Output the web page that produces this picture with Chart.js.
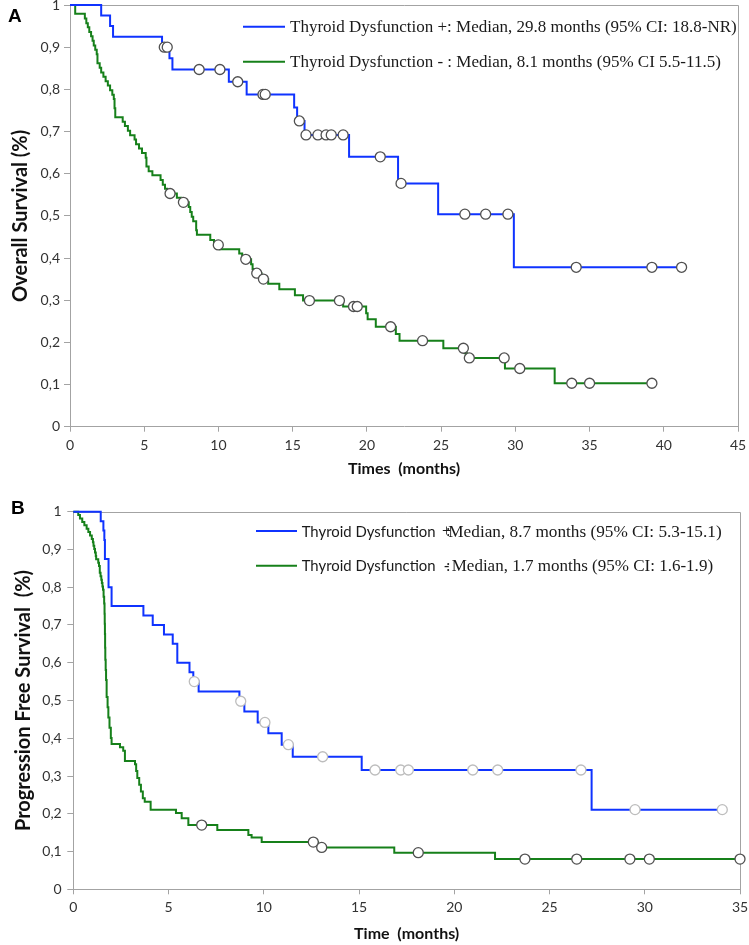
<!DOCTYPE html>
<html>
<head>
<meta charset="utf-8">
<script src="https://cdn.jsdelivr.net/npm/chart.js@4.4.1/dist/chart.umd.min.js"></script>
<style>
  html, body { margin: 0; padding: 0; background: #fff; overflow: hidden; }
  body { width: 749px; height: 945px; position: relative; }
  .panel { position: absolute; left: 0; width: 769px; }
  #wrapA { top: -20px; height: 505px; }
  #wrapB { top: 470px; height: 475px; }
</style>
</head>
<body>
<div class="panel" id="wrapA"><canvas id="osChart"></canvas></div>
<div class="panel" id="wrapB"><canvas id="pfsChart"></canvas></div>
<script>
// --- Panel A: overall survival (months) ---
const osPosTimes = [0, 2.1, 2.7, 2.9, 6.2, 6.7, 6.9, 10.7, 11.9, 15.1, 15.3, 15.8, 18.8, 22.1, 24.8, 29.9, 41.2];
const osPosSurv = [1, 0.975, 0.95, 0.925, 0.9, 0.874, 0.847, 0.818, 0.788, 0.757, 0.725, 0.692, 0.64, 0.577, 0.504, 0.378, 0.378];
const osPosCensorTimes = [6.35, 6.55, 8.7, 10.1, 11.3, 13.0, 13.15, 15.45, 15.9, 16.7, 17.25, 17.6, 18.4, 20.9, 22.3, 26.6, 28.0, 29.5, 34.1, 39.2, 41.2];
const osPosCensorSurv = [0.9, 0.9, 0.847, 0.847, 0.818, 0.788, 0.788, 0.725, 0.692, 0.692, 0.692, 0.692, 0.692, 0.64, 0.577, 0.504, 0.504, 0.504, 0.378, 0.378, 0.378];

const osNegTimes = [0, 0.35, 1.0, 1.1, 1.2, 1.3, 1.42, 1.52, 1.6, 1.7, 1.8, 1.85, 2.0, 2.1, 2.25, 2.4, 2.55, 2.7, 2.85, 2.95, 3.0, 3.05,
  3.55, 3.7, 3.9, 4.05, 4.35, 4.45, 4.65, 4.85, 5.1, 5.15, 5.3, 5.55, 6.1, 6.25, 6.4, 6.55, 7.2, 7.5, 8.0, 8.1, 8.2, 8.3, 8.5, 8.55,
  9.45, 9.7, 10.1, 11.4, 11.6, 12.2, 12.3, 12.45, 12.9, 13.35, 14.1, 15.15, 15.7, 18.4, 19.95, 20.05, 20.6, 21.95, 22.2, 25.15,
  26.6, 26.75, 29.3, 32.65, 39.2];
const osNegSurv = [1, 0.979, 0.968, 0.957, 0.947, 0.936, 0.926, 0.915, 0.904, 0.894, 0.883, 0.862, 0.851, 0.84, 0.83, 0.819, 0.809, 0.798, 0.787, 0.777, 0.755, 0.734,
  0.723, 0.713, 0.702, 0.691, 0.681, 0.67, 0.66, 0.649, 0.638, 0.617, 0.606, 0.596, 0.585, 0.574, 0.564, 0.553, 0.543, 0.532, 0.521, 0.509, 0.498, 0.487, 0.466, 0.455,
  0.443, 0.431, 0.421, 0.411, 0.397, 0.385, 0.374, 0.364, 0.35, 0.339, 0.326, 0.312, 0.299, 0.285, 0.269, 0.255, 0.237, 0.22, 0.204, 0.186,
  0.174, 0.163, 0.138, 0.103, 0.103];
const osNegCensorTimes = [6.74, 7.64, 9.99, 11.84, 12.58, 13.03, 16.13, 18.15, 19.1, 19.35, 21.6, 23.75, 26.5, 26.9, 29.25, 30.3, 33.8, 35.0, 39.2];
const osNegCensorSurv = [0.553, 0.532, 0.431, 0.397, 0.364, 0.35, 0.299, 0.299, 0.285, 0.285, 0.237, 0.204, 0.186, 0.163, 0.163, 0.138, 0.103, 0.103, 0.103];

// --- Panel B: progression free survival (months) ---
const pfsPosTimes = [0, 1.44, 1.58, 1.63, 1.66, 1.85, 2.01, 3.68, 4.17, 4.76, 5.22, 5.46, 6.1, 6.3, 6.58, 8.72, 8.98, 9.68, 10.24, 10.94, 11.52, 15.14, 27.21, 34.07];
const pfsPosSurv = [1, 0.975, 0.95, 0.925, 0.875, 0.8, 0.75, 0.725, 0.7, 0.675, 0.65, 0.6, 0.575, 0.55, 0.524, 0.498, 0.471, 0.442, 0.413, 0.383, 0.351, 0.316, 0.211, 0.211];
const pfsPosCensorTimes = [6.35, 8.79, 10.06, 11.29, 13.09, 15.84, 17.19, 17.59, 20.97, 22.28, 26.65, 29.49, 34.07];
const pfsPosCensorSurv = [0.55, 0.498, 0.442, 0.383, 0.351, 0.316, 0.316, 0.316, 0.316, 0.316, 0.316, 0.211, 0.211];

const pfsNegTimes = [0, 0.26, 0.35, 0.47, 0.58, 0.7, 0.79, 0.88, 0.97, 1.03, 1.06, 1.1, 1.14, 1.18, 1.2, 1.31, 1.35, 1.39, 1.43, 1.47, 1.5, 1.53, 1.56,
  1.59, 1.62, 1.64, 1.65, 1.66, 1.67, 1.68, 1.7, 1.72, 1.75, 1.8, 1.84, 1.9, 1.97, 2.01, 2.45, 2.62, 2.71, 3.24, 3.3, 3.36, 3.46, 3.55,
  3.65, 3.75, 4.06, 5.39, 5.69, 6.04, 7.56, 9.19, 9.36, 9.89, 12.85, 16.85, 22.14, 35];
const pfsNegSurv = [1, 0.991, 0.982, 0.973, 0.964, 0.955, 0.946, 0.937, 0.928, 0.919, 0.91, 0.901, 0.892, 0.883, 0.874, 0.865, 0.856, 0.838, 0.829, 0.82, 0.811, 0.802, 0.793,
  0.775, 0.757, 0.73, 0.703, 0.676, 0.64, 0.608, 0.581, 0.554, 0.509, 0.482, 0.455, 0.428, 0.401, 0.385, 0.376, 0.367, 0.34, 0.331, 0.313, 0.295, 0.277, 0.259,
  0.241, 0.232, 0.211, 0.202, 0.188, 0.17, 0.157, 0.144, 0.137, 0.125, 0.111, 0.097, 0.08, 0.08];
const pfsNegCensorTimes = [6.74, 12.6, 13.04, 18.11, 23.71, 26.43, 29.22, 30.24, 35.0];
const pfsNegCensorSurv = [0.17, 0.125, 0.111, 0.097, 0.08, 0.08, 0.08, 0.08, 0.08];

const yTicks = [0, 0.1, 0.2, 0.3, 0.4, 0.5, 0.6, 0.7, 0.8, 0.9, 1];

const BLUE = '#0f33ff';
const GREEN = '#16801a';
const AXIS = '#a3a3a3';
const SANS = 'Lato';
const SERIF = '"Liberation Serif"';

function pts(times, surv) {
  return times.map((t, i) => ({ x: t, y: surv[i] }));
}

// top + right frame of the plot area
const frame = {
  id: 'frame',
  beforeDatasetsDraw(chart) {
    const { ctx, chartArea: a } = chart;
    ctx.save();
    ctx.strokeStyle = AXIS;
    ctx.lineWidth = 1;
    ctx.beginPath();
    ctx.moveTo(a.left, Math.round(a.top) + 0.5);
    ctx.lineTo(Math.round(a.right) + 0.5, Math.round(a.top) + 0.5);
    ctx.lineTo(Math.round(a.right) + 0.5, a.bottom);
    ctx.stroke();
    ctx.restore();
  }
};

// in-plot legend + panel letter, text fitted to the measured widths
function legendBox(cfg) {
  return {
    id: 'legendBox',
    afterDraw(chart) {
      const ctx = chart.ctx;
      ctx.save();
      ctx.textBaseline = 'middle';
      ctx.fillStyle = '#1a1a1a';
      cfg.rows.forEach(row => {
        ctx.strokeStyle = row.color;
        ctx.lineWidth = 2;
        ctx.beginPath();
        ctx.moveTo(cfg.lineX[0], row.y);
        ctx.lineTo(cfg.lineX[1], row.y);
        ctx.stroke();
        row.parts.forEach(p => {
          let size = p.size;
          ctx.font = size + 'px ' + p.family;
          if (p.w) {
            size = size * p.w / ctx.measureText(p.text).width;
            ctx.font = size.toFixed(2) + 'px ' + p.family;
          }
          ctx.fillText(p.text, p.x, row.y + 1);
        });
      });
      ctx.font = 'bold 19px "Liberation Sans"';
      ctx.fillStyle = '#000';
      ctx.fillText(cfg.letter.text, cfg.letter.x, cfg.letter.y);
      ctx.restore();
    }
  };
}

function tickLabel(v) {
  if (Math.abs(v) < 1e-9) return '0';
  if (Math.abs(v - 1) < 1e-9) return '1';
  return v.toFixed(1).replace('.', ',');
}

function kmChart(id, c) {
  const censorStyle = (color) => ({
    showLine: false, pointRadius: 5, pointHoverRadius: 5,
    pointBackgroundColor: '#fff', pointBorderColor: color, pointBorderWidth: 1.3,
    order: 0, clip: false
  });
  const lineStyle = (color) => ({
    borderColor: color, borderWidth: 2, pointRadius: 0, stepped: true,
    fill: false, order: 1, clip: false
  });
  return new Chart(document.getElementById(id), {
    type: 'line',
    data: {
      datasets: [
        { label: 'pos censored', data: pts(c.posCT, c.posCS), ...censorStyle(c.posCensorColor) },
        { label: 'neg censored', data: pts(c.negCT, c.negCS), ...censorStyle('#505050') },
        { label: 'pos', data: pts(c.posT, c.posS), ...lineStyle(BLUE) },
        { label: 'neg', data: pts(c.negT, c.negS), ...lineStyle(GREEN) }
      ]
    },
    options: {
      responsive: true,
      maintainAspectRatio: false,
      animation: false,
      events: [],
      layout: { padding: c.padding },
      scales: {
        x: {
          type: 'linear', min: 0, max: c.xMax,
          afterFit: s => { s.height = c.xHeight; },
          ticks: { stepSize: 5, autoSkip: false, maxRotation: 0, padding: 5, color: '#333', font: { family: SANS, size: 14 } },
          grid: { drawOnChartArea: false, drawTicks: true, tickLength: 5, color: AXIS },
          border: { display: true, color: AXIS },
          title: { display: true, text: c.xTitle, color: '#111', font: { family: SANS, size: 16, weight: 'bold' }, padding: { top: 0, bottom: c.xTitlePad } }
        },
        y: {
          type: 'linear', min: 0, max: 1,
          afterFit: s => { s.width = c.yWidth; },
          afterBuildTicks: s => { s.ticks = yTicks.map(v => ({ value: v })); },
          ticks: { padding: c.yTickPad, color: '#333', font: { family: SANS, size: 14 }, callback: tickLabel },
          grid: { drawOnChartArea: false, drawTicks: true, tickLength: 6, color: AXIS },
          border: { display: true, color: AXIS },
          title: { display: true, text: c.yTitle, color: '#111', font: { family: SANS, size: 20, weight: 'bold' }, padding: { top: c.yTitlePad, bottom: 0 } }
        }
      },
      plugins: {
        legend: { display: false },
        tooltip: { enabled: false }
      }
    },
    plugins: [frame, legendBox(c.legend)]
  });
}

document.addEventListener('DOMContentLoaded', () => {
  // --- Overall survival ---
  kmChart('osChart', {
    posT: osPosTimes, posS: osPosSurv, posCT: osPosCensorTimes, posCS: osPosCensorSurv, posCensorColor: '#505050',
    negT: osNegTimes, negS: osNegSurv, negCT: osNegCensorTimes, negCS: osNegCensorSurv,
    xMax: 45, xTitle: 'Times  (months)', yTitle: 'Overall Survival (%)',
    padding: { top: 25, right: 31, left: 0, bottom: 0 },
    xHeight: 58.3, yWidth: 70, xTitlePad: 6.4, yTitlePad: 9, yTickPad: 4,
    legend: {
      lineX: [243, 285],
      letter: { text: 'A', x: 8, y: 37 },
      rows: [
        { color: BLUE, y: 46.7, parts: [{ text: 'Thyroid Dysfunction +: Median, 29.8 months (95% CI: 18.8-NR)', family: SERIF, size: 16, x: 290, w: 447 }] },
        { color: GREEN, y: 81.7, parts: [{ text: 'Thyroid Dysfunction - : Median, 8.1 months (95% CI 5.5-11.5)', family: SERIF, size: 16, x: 290, w: 431 }] }
      ]
    }
  });

  // --- Progression free survival ---
  kmChart('pfsChart', {
    posT: pfsPosTimes, posS: pfsPosSurv, posCT: pfsPosCensorTimes, posCS: pfsPosCensorSurv, posCensorColor: '#bdbdbd',
    negT: pfsNegTimes, negS: pfsNegSurv, negCT: pfsNegCensorTimes, negCS: pfsNegCensorSurv,
    xMax: 35, xTitle: 'Time  (months)', yTitle: 'Progression Free Survival  (%)',
    padding: { top: 41.7, right: 29, left: 0, bottom: 0 },
    xHeight: 55.7, yWidth: 73.3, xTitlePad: 1.4, yTitlePad: 11.5, yTickPad: 5.6,
    legend: {
      lineX: [256, 297],
      letter: { text: 'B', x: 11, y: 39 },
      rows: [
        { color: BLUE, y: 61, parts: [
          { text: 'Thyroid Dysfunction', family: SANS, size: 16, x: 301.7, w: 134 },
          { text: '+', family: SERIF, size: 16, x: 442 },
          { text: ':', family: SERIF, size: 16, x: 446 },
          { text: 'Median, 8.7 months (95% CI: 5.3-15.1)', family: SERIF, size: 16, x: 448.3, w: 273.4 }
        ] },
        { color: GREEN, y: 95.7, parts: [
          { text: 'Thyroid Dysfunction', family: SANS, size: 16, x: 301.7, w: 134 },
          { text: '-', family: SERIF, size: 16, x: 444 },
          { text: ':', family: SERIF, size: 16, x: 446 },
          { text: 'Median, 1.7 months (95% CI: 1.6-1.9)', family: SERIF, size: 16, x: 451.7, w: 261.6 }
        ] }
      ]
    }
  });
});
</script>
</body>
</html>
